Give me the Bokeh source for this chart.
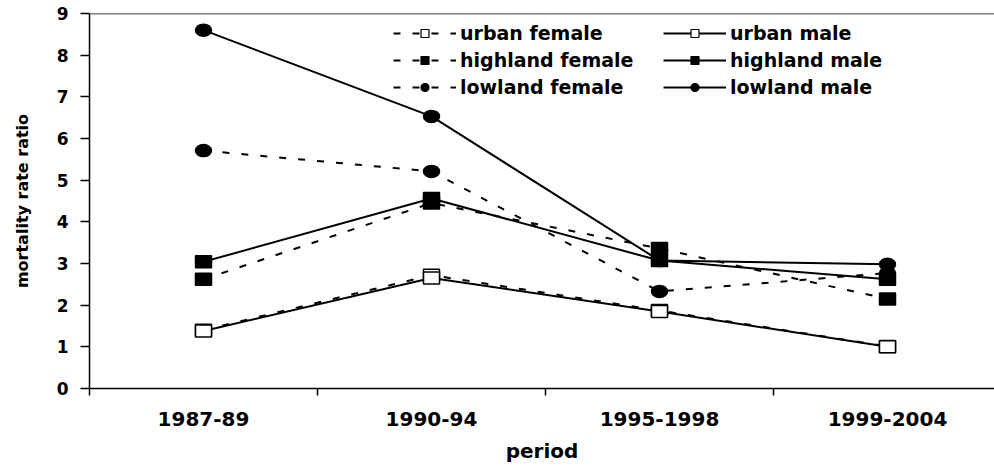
from bokeh.plotting import figure
from bokeh.models import (FixedTicker, Range1d, Span, Legend, LegendItem,
                          ColumnDataSource)
from bokeh.embed import file_html
from bokeh.resources import INLINE

categories = ["1987-89", "1990-94", "1995-1998", "1999-2004"]
urban_female = [1.40, 2.72, 1.87, 1.01]
urban_male = [1.38, 2.65, 1.85, 1.00]
highland_female = [2.62, 4.45, 3.36, 2.15]
highland_male = [3.04, 4.56, 3.07, 2.62]
lowland_female = [5.71, 5.21, 2.33, 2.77]
lowland_male = [8.60, 6.53, 3.07, 2.98]
y_ticks = [0, 1, 2, 3, 4, 5, 6, 7, 8, 9]

xpos = [i + 0.5 for i in range(len(categories))]
bounds = [i for i in range(len(categories) + 1)]

FONT = "DejaVu Sans"

p = figure(width=994, height=470, output_backend="svg", toolbar_location=None,
           x_range=Range1d(0, 905 / 228), y_range=Range1d(0, 9),
           min_border_left=89, min_border_right=0, min_border_top=13,
           min_border_bottom=82)
p.grid.visible = False
p.outline_line_color = None
p.background_fill_color = "white"
p.border_fill_color = "white"

# x axis
xa = p.xaxis[0]
xa.ticker = FixedTicker(ticks=xpos, minor_ticks=bounds)
xa.major_label_overrides = {x: c for x, c in zip(xpos, categories)}
xa.major_tick_out = 0
xa.major_tick_in = 0
xa.minor_tick_out = 7
xa.minor_tick_in = 0
xa.minor_tick_line_color = "black"
xa.minor_tick_line_width = 1.5
xa.axis_line_color = "black"
xa.axis_line_width = 1.5
xa.major_label_text_font = FONT
xa.major_label_text_font_style = "bold"
xa.major_label_text_font_size = "20px"
xa.major_label_text_color = "black"
xa.major_label_standoff = 16
xa.axis_label = "period"
xa.axis_label_text_font = FONT
xa.axis_label_text_font_style = "bold"
xa.axis_label_text_font_size = "20px"
xa.axis_label_text_color = "black"
xa.axis_label_standoff = 10

# y axis
ya = p.yaxis[0]
ya.ticker = FixedTicker(ticks=y_ticks)
ya.major_tick_out = 9
ya.major_tick_in = 0
ya.minor_tick_out = 0
ya.minor_tick_in = 0
ya.major_tick_line_color = "black"
ya.major_tick_line_width = 1.5
ya.axis_line_color = "black"
ya.axis_line_width = 1.5
ya.major_label_text_font = FONT
ya.major_label_text_font_style = "bold"
ya.major_label_text_font_size = "17px"
ya.major_label_text_color = "black"
ya.major_label_standoff = 12
ya.axis_label = "mortality rate ratio"
ya.axis_label_text_font = FONT
ya.axis_label_text_font_style = "bold"
ya.axis_label_text_font_size = "16px"
ya.axis_label_text_color = "black"
ya.axis_label_standoff = 22

# top border of plot area
p.add_layout(Span(location=9, dimension="width", line_color="black",
                  line_width=1.5))

series = [
    ("urban female", urban_female, "dashed", "square", "white"),
    ("highland female", highland_female, "dashed", "square", "black"),
    ("lowland female", lowland_female, "dashed", "circle", "black"),
    ("urban male", urban_male, "solid", "square", "white"),
    ("highland male", highland_male, "solid", "square", "black"),
    ("lowland male", lowland_male, "solid", "circle", "black"),
]

sources = [ColumnDataSource(dict(x=xpos, y=vals)) for _, vals, _, _, _ in series]

line_rs = []
for (name, vals, dash, mk, fill), src in zip(series, sources):
    lr = p.line("x", "y", source=src, line_color="black", line_width=2,
                line_dash="7 12" if dash == "dashed" else "solid")
    line_rs.append(lr)

items = []
for (name, vals, dash, mk, fill), src, lr in zip(series, sources, line_rs):
    # small marker (used for the legend), covered by the wider marker below
    lm = p.scatter("x", "y", source=src, marker=mk, size=8, fill_color=fill,
                   line_color="black", line_width=1.2)
    if mk == "square":
        p.rect("x", "y", source=src, width=16, height=12,
               width_units="screen", height_units="screen",
               fill_color=fill, line_color="black", line_width=1.5)
    else:
        p.ellipse("x", "y", source=src, width=16, height=12,
                  width_units="screen", height_units="screen",
                  fill_color=fill, line_color="black", line_width=1.5)
    items.append(LegendItem(label=name, renderers=[lr, lm]))

legend = Legend(items=items, orientation="vertical", nrows=3, ncols=2,
                location=(304, 290), glyph_width=63, glyph_height=20,
                label_standoff=4, label_width=198, spacing=5, padding=0,
                margin=0, border_line_color=None, background_fill_alpha=0,
                label_text_font=FONT, label_text_font_style="bold",
                label_text_font_size="19px", label_text_color="black")
p.add_layout(legend, "center")

open("out.html", "w").write(file_html(p, INLINE))
